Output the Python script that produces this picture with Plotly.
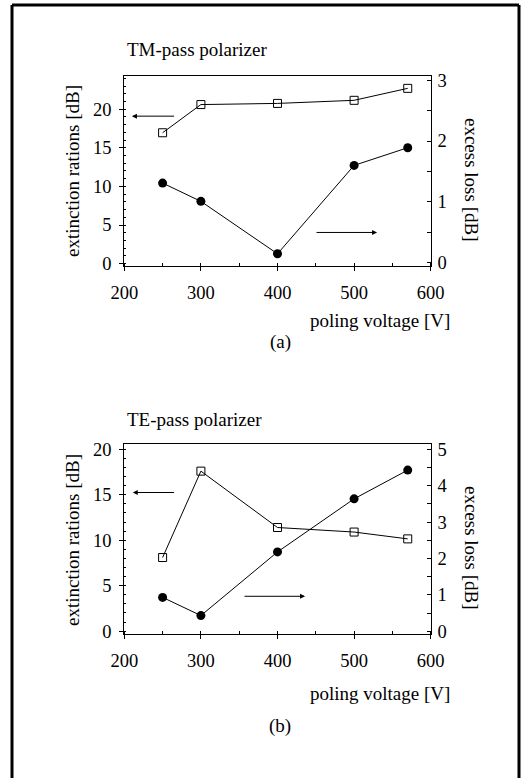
import plotly.graph_objects as go

# ---- data ----
voltage_a = [250, 300, 400, 500, 570]
ext_ratio_a = [16.95, 20.6, 20.75, 21.15, 22.7]      # left axis, open squares
excess_loss_a = [1.31, 1.01, 0.15, 1.6, 1.89]        # right axis, filled circles

voltage_b = [250, 300, 400, 500, 570]
ext_ratio_b = [8.1, 17.6, 11.4, 10.9, 10.15]
excess_loss_b = [0.93, 0.43, 2.18, 3.64, 4.43]

x_ticks = [200, 300, 400, 500, 600]
title_a = "TM-pass polarizer"
title_b = "TE-pass polarizer"
left_label = "extinction rations [dB]"
right_label = "excess loss [dB]"
x_label = "poling voltage [V]"

W, H = 532, 778
FONT = "Liberation Serif, DejaVu Serif, Times New Roman, serif"
FS = 19
FS_TICK = 18.5


def px(x):
    return x / W


def py(y):
    return 1 - y / H


fig = go.Figure()

sq = dict(symbol="square-open", size=8, color="black", line=dict(width=1, color="black"))
ci = dict(symbol="circle", size=9, color="black")
ln = dict(color="black", width=1)

fig.add_trace(go.Scatter(x=voltage_a, y=ext_ratio_a, mode="lines+markers", marker=sq, line=ln,
                         xaxis="x", yaxis="y", showlegend=False))
fig.add_trace(go.Scatter(x=voltage_a, y=excess_loss_a, mode="lines+markers", marker=ci, line=ln,
                         xaxis="x", yaxis="y2", showlegend=False))
fig.add_trace(go.Scatter(x=voltage_b, y=ext_ratio_b, mode="lines+markers", marker=sq, line=ln,
                         xaxis="x2", yaxis="y3", showlegend=False))
fig.add_trace(go.Scatter(x=voltage_b, y=excess_loss_b, mode="lines+markers", marker=ci, line=ln,
                         xaxis="x2", yaxis="y4", showlegend=False))

xdom = [px(124.3), px(430.7)]
dom_a = [py(266), py(76)]
dom_b = [py(634), py(444.3)]

tickfont = dict(family=FONT, size=FS_TICK, color="black")


def xax(anchor):
    return dict(domain=xdom, anchor=anchor, range=[200, 600], tickvals=x_ticks,
                ticks="outside", ticklen=4, tickcolor="black",
                minor=dict(dtick=50, tick0=200, ticks="inside", ticklen=3, tickcolor="black"),
                showline=True, linecolor="black", linewidth=1, mirror=True,
                showgrid=False, zeroline=False, tickfont=tickfont, ticklabelstandoff=6,
                automargin=False)


def yleft(dom, rng, anchor):
    return dict(domain=dom, anchor=anchor, range=rng, dtick=5, tick0=0,
                ticks="outside", ticklen=4, tickcolor="black",
                minor=dict(dtick=1, tick0=0, ticks="inside", ticklen=2, tickcolor="black"),
                showline=True, linecolor="black", linewidth=1,
                showgrid=False, zeroline=False, tickfont=tickfont, ticklabelstandoff=4,
                automargin=False)


def yright(dom, rng, anchor, overlay):
    return dict(domain=dom, anchor=anchor, overlaying=overlay, side="right", range=rng,
                dtick=1, tick0=0, ticks="inside", ticklen=4, tickcolor="black",
                minor=dict(dtick=0.5, tick0=0, ticks="inside", ticklen=4, tickcolor="black"),
                showline=True, linecolor="black", linewidth=1,
                showgrid=False, zeroline=False, tickfont=tickfont, ticklabelstandoff=2,
                automargin=False)


fig.update_layout(
    width=W, height=H, autosize=False,
    margin=dict(l=0, r=0, t=0, b=0, pad=0),
    paper_bgcolor="white", plot_bgcolor="white",
    font=dict(family=FONT, size=FS, color="black"),
    xaxis=xax("y"),
    yaxis=yleft(dom_a, [-0.31, 24.3], "x"),
    yaxis2=yright(dom_a, [-0.05, 3.066], "x", "y"),
    xaxis2=xax("y3"),
    yaxis3=yleft(dom_b, [-0.31, 20.55], "x2"),
    yaxis4=yright(dom_b, [-0.077, 5.14], "x2", "y3"),
)

ann = []


def text(t, x, y, xanchor="center", angle=0, size=FS):
    ann.append(dict(text=t, x=px(x), y=py(y), xref="paper", yref="paper", showarrow=False,
                    xanchor=xanchor, yanchor="middle", textangle=angle,
                    font=dict(family=FONT, size=size, color="black")))


# panel (a)
text(title_a, 125, 50, xanchor="left")
text(left_label, 72, 171, angle=-90)
text(right_label, 472, 179, angle=90)
text(x_label, 452, 320, xanchor="right")
text("(a)", 280, 342)
# panel (b)
text(title_b, 125, 419, xanchor="left")
text(left_label, 72, 540, angle=-90)
text(right_label, 472, 547, angle=90)
text(x_label, 452, 693, xanchor="right")
text("(b)", 280, 726)


def arrow(x_head, x_tail, yv, xref, yref):
    ann.append(dict(x=x_head, y=yv, ax=x_tail, ay=yv, xref=xref, yref=yref, axref=xref, ayref=yref,
                    showarrow=True, arrowhead=2, arrowsize=1, arrowwidth=1, arrowcolor="black",
                    text=""))


arrow(210, 267, 19.1, "x", "y")
arrow(530, 449, 0.5, "x", "y2")
arrow(211, 267, 15.25, "x2", "y3")
arrow(436, 355, 0.96, "x2", "y4")

fig.update_layout(annotations=ann)

# frame (open at the bottom)
for x0, y0, x1, y1 in [(12, 5, 12, 778), (12, 5, 519, 5), (519, 5, 519, 778)]:
    fig.add_shape(type="line", xref="paper", yref="paper", x0=px(x0), y0=py(y0), x1=px(x1), y1=py(y1),
                  line=dict(color="black", width=3))

fig.write_html("out.html", config={"displayModeBar": False},
               post_script="document.body.style.margin='0';document.body.style.overflow='hidden';")
